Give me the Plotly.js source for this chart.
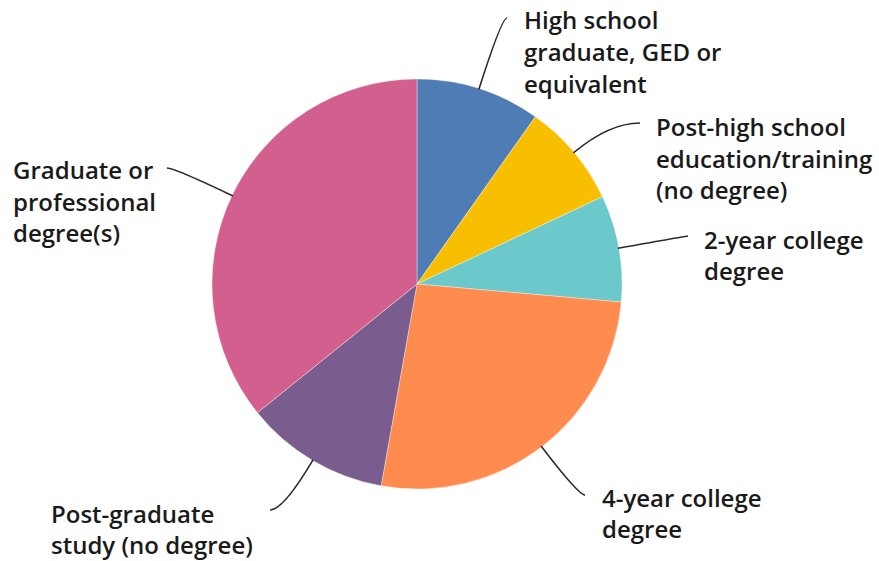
<!DOCTYPE html>
<html>
<head>
<meta charset="utf-8">
<script src="https://cdn.plot.ly/plotly-3.0.1.min.js"></script>
<style>html,body{margin:0;padding:0;background:#fff;}#chart{width:879px;height:561px;}</style>
</head>
<body>
<div id="chart"></div>
<script>
// ---- data ----
const categories = [
  "High school graduate, GED or equivalent",
  "Post-high school education/training (no degree)",
  "2-year college degree",
  "4-year college degree",
  "Post-graduate study (no degree)",
  "Graduate or professional degree(s)"
];
const labelLines = [
  ["High school", "graduate, GED or", "equivalent"],
  ["Post-high school", "education/training", "(no degree)"],
  ["2-year college", "degree"],
  ["4-year college", "degree"],
  ["Post-graduate", "study (no degree)"],
  ["Graduate or", "professional", "degree(s)"]
];
const shares = [9.8, 8.2, 8.4, 26.4, 11.4, 35.8];
const colors = ["#507cb6", "#f8bf00", "#6bc8cb", "#ff8b4e", "#7b5c8e", "#d25f8d"];

// ---- layout (pixels) ----
const W = 879, H = 561;
const cx = 417, cy = 284, R = 205;
// label block: left x, first-line center y ; leader end point
const labelPos = [
  {x: 522, y: 20, ex: 507, ey: 18},
  {x: 654, y: 127, ex: 640, ey: 123},
  {x: 702, y: 239, ex: 688, ey: 236},
  {x: 600, y: 497, ex: 585, ey: 495},
  {x: 49,  y: 513, ex: 270, ey: 510},
  {x: 11,  y: 170, ex: 167, ey: 168}
];
const lineGap = 31.5;
const px = v => v / W;
const py = v => 1 - v / H;

const total = shares.reduce((a, b) => a + b, 0);
const shapes = [];
const annotations = [];
let cum = 0;
shares.forEach((v, i) => {
  const mid = (cum + v / 2) / total * 2 * Math.PI;
  cum += v;
  const dx = Math.sin(mid), dy = -Math.cos(mid);
  const ix = cx + (R - 1) * dx, iy = cy + (R - 1) * dy;
  const L = labelPos[i];
  let t = (L.ey - iy) / dy;
  if (!isFinite(t) || t < 0) t = 40;
  const qx = ix + dx * t, qy = iy + dy * t;
  shapes.push({
    type: "path", xref: "paper", yref: "paper",
    path: `M ${px(ix)} ${py(iy)} Q ${px(qx)} ${py(qy)} ${px(L.ex)} ${py(L.ey)}`,
    line: {color: "#2b2b2b", width: 1.6}
  });
  labelLines[i].forEach((s, k) => {
    annotations.push({
      xref: "paper", yref: "paper",
      x: px(L.x), y: py(L.y + k * lineGap),
      xanchor: "left", yanchor: "middle",
      text: s, showarrow: false, align: "left",
      font: {family: "Open Sans, sans-serif", size: 24, color: "#1a1a1a", weight: 600}
    });
  });
});

const trace = {
  type: "pie",
  labels: categories,
  values: shares,
  sort: false,
  direction: "clockwise",
  rotation: 0,
  textinfo: "none",
  hoverinfo: "label+percent",
  marker: {colors: colors, line: {color: "rgba(255,255,255,0.6)", width: 0.6}},
  domain: {x: [(cx - R) / W, (cx + R) / W], y: [1 - (cy + R) / H, 1 - (cy - R) / H]},
  showlegend: false
};

Plotly.newPlot("chart", [trace], {
  width: W, height: H,
  margin: {l: 0, r: 0, t: 0, b: 0},
  paper_bgcolor: "#fff",
  showlegend: false,
  shapes: shapes,
  annotations: annotations
}, {displayModeBar: false, staticPlot: true});
</script>
</body>
</html>
